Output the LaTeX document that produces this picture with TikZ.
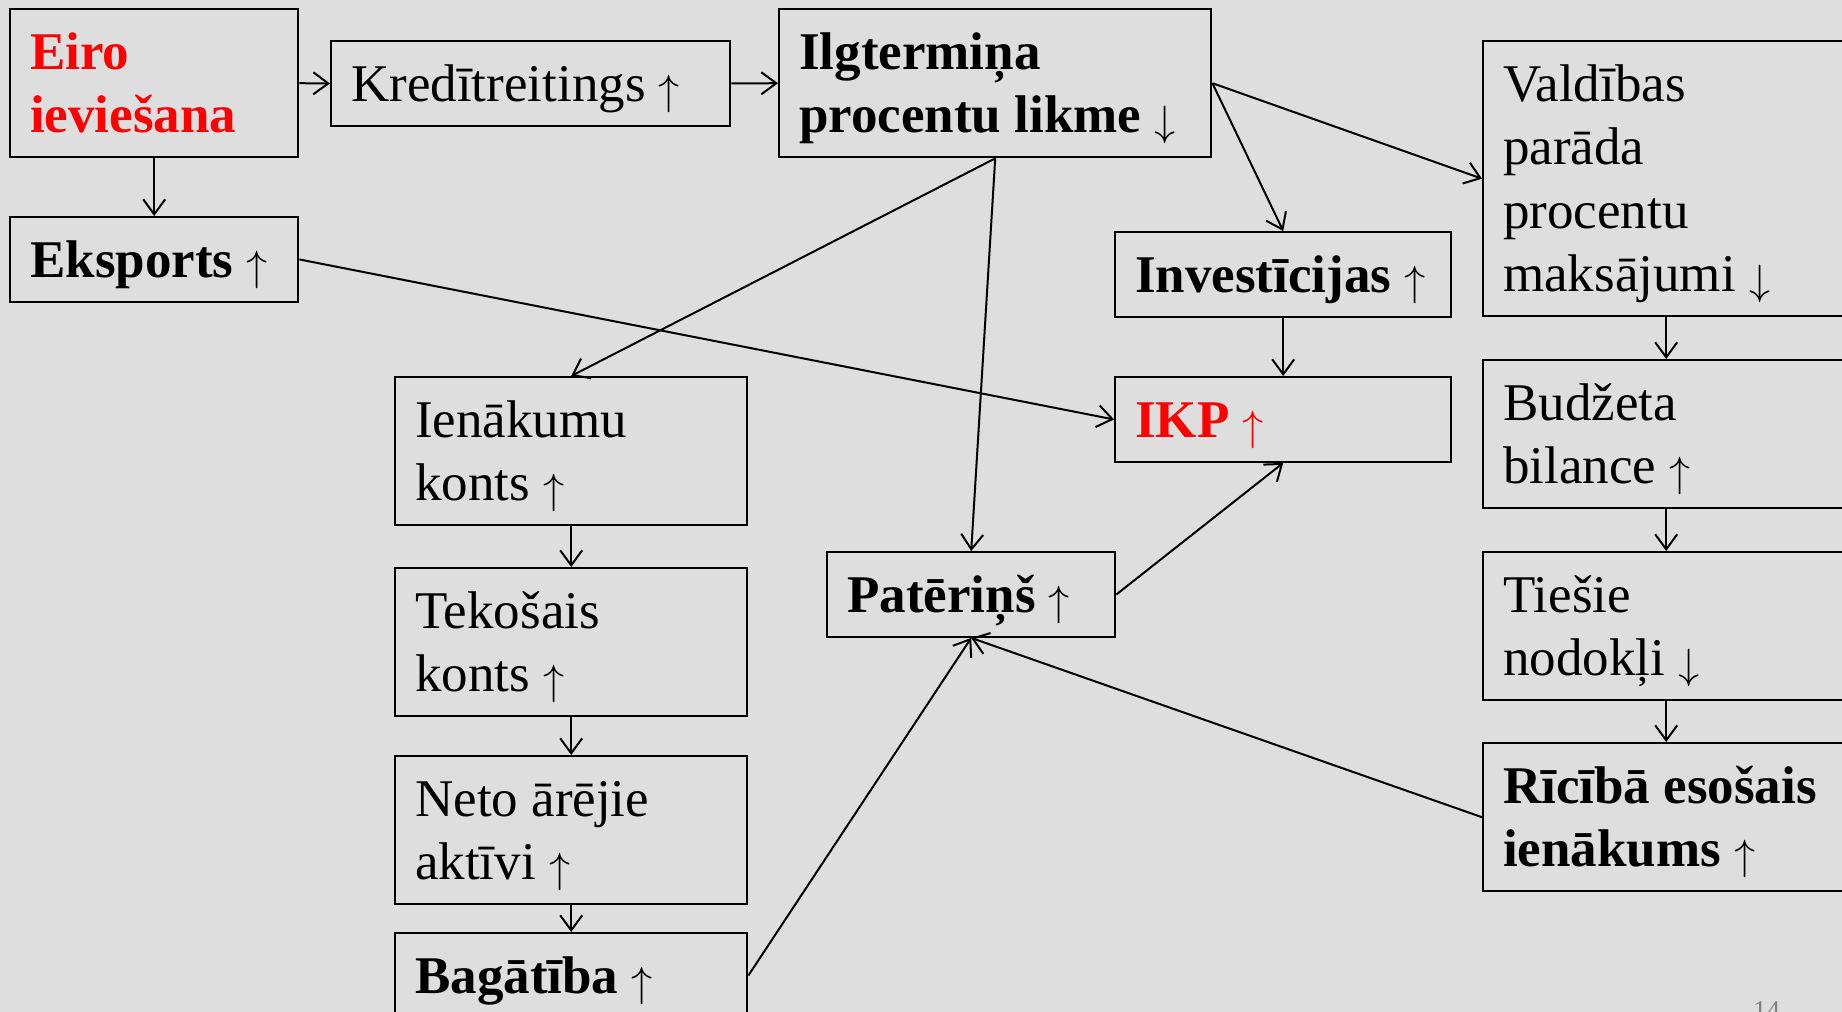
\documentclass[tikz,border=0pt]{standalone}
\usepackage{fontspec}
\usepackage{graphicx}
\setmainfont{Liberation Serif}
\usetikzlibrary{arrows.meta}
\definecolor{slidebg}{RGB}{222,222,222}
\newcommand{\ls}{\rule[-7pt]{0pt}{31.75pt}}
\newcommand{\up}{\raisebox{-1.5pt}{\scalebox{0.85}{$\uparrow$}}}
\newcommand{\dn}{\raisebox{-1.5pt}{\scalebox{0.85}{$\downarrow$}}}

\begin{document}
\begin{tikzpicture}[x=0.5pt,y=-0.5pt,
		box/.style={draw,line width=1.2pt,anchor=north west,inner xsep=10pt,inner ysep=5.25pt,
			text width=#1,align=flush left,font=\fontsize{26.5}{31.75}\selectfont,
			execute at begin node=\ls,execute at end node=\ls},
		strong/.style={font=\fontsize{26.5}{31.75}\selectfont\bfseries},
		link/.style={line width=1pt,-{Straight Barb[length=7.5pt,width=11pt]}}]
		\useasboundingbox (0,0) rectangle (1842,1012);
		\fill[slidebg] (0,0) rectangle (1842,1012);
		\node[box=124pt,strong,text=red] (eiro) at (9,8) {Eiro\\ieviešana};
		\node[box=179.5pt] (kredit) at (330,40) {Kredītreitings~\up};
		\node[box=196pt,strong] (ilgt) at (778,8) {Ilgtermiņa\\procentu likme~\dn};
		\node[box=163pt] (vald) at (1482,40) {Valdības\\parāda\\procentu\\maksājumi~\dn};
		\node[box=124pt,strong] (eksp) at (9,216) {Eksports~\up};
		\node[box=148pt,strong] (invest) at (1114,231) {Investīcijas~\up};
		\node[box=148pt,strong,text=red] (ikp) at (1114,376) {IKP~\up};
		\node[box=156pt] (ienak) at (394,376) {Ienākumu\\konts~\up};
		\node[box=156pt] (tekos) at (394,567) {Tekošais\\konts~\up};
		\node[box=156pt] (neto) at (394,755) {Neto ārējie\\aktīvi~\up};
		\node[box=156pt,strong] (bagat) at (394,932) {Bagātība~\up};
		\node[box=124pt,strong] (pater) at (826,551) {Patēriņš~\up};
		\node[box=163pt] (budz) at (1482,359) {Budžeta\\bilance~\up};
		\node[box=163pt] (tiesie) at (1482,551) {Tiešie\\nodokļi~\dn};
		\node[box=163pt,strong] (ricib) at (1482,742) {Rīcībā esošais\\ienākums~\up};
		\node[anchor=base west,text=gray,font=\fontsize{13.5}{16}\selectfont] (slideno) at (1746,1019) {14};
		\draw[link] (eiro.east) -- (kredit.west);
		\draw[link] (kredit.east) -- (ilgt.west);
		\draw[link] (eiro.south) -- (eksp.north);
		\draw[link] (eksp.east) -- (ikp.west);
		\draw[link] (ilgt.east) -- (vald.west);
		\draw[link] (ilgt.east) -- (invest.north);
		\draw[link] (ilgt.south) -- (ienak.north);
		\draw[link] (ilgt.south) -- (pater.north);
		\draw[link] (invest.south) -- (ikp.north);
		\draw[link] (pater.east) -- (ikp.south);
		\draw[link] (ienak.south) -- (tekos.north);
		\draw[link] (tekos.south) -- (neto.north);
		\draw[link] (neto.south) -- (bagat.north);
		\draw[link] (bagat.east) -- (pater.south);
		\draw[link] (ricib.west) -- (pater.south);
		\draw[link] (vald.south) -- (budz.north);
		\draw[link] (budz.south) -- (tiesie.north);
		\draw[link] (tiesie.south) -- (ricib.north);
	\end{tikzpicture}
\end{document}
